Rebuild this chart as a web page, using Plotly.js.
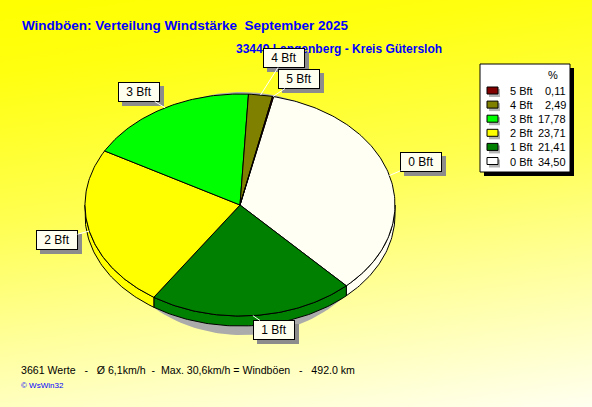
<!DOCTYPE html>
<html>
<head>
<meta charset="utf-8">
<script src="https://cdn.plot.ly/plotly-3.0.1.min.js"></script>
<style>
body { margin: 0; }
#plot { width: 592px; height: 407px;
  background: linear-gradient(172deg, #ffff00 0%, #ffff10 15%, #ffff50 45%, #ffffa0 72%, #fffff0 100%); }
</style>
</head>
<body>
<div id="plot"></div>
<script>
// Windstaerke-Verteilung (Prozent)
var categories = ['0 Bft', '1 Bft', '2 Bft', '3 Bft', '4 Bft', '5 Bft'];
var percent = [34.50, 21.41, 23.71, 17.78, 2.49, 0.11];

var titleText = 'Windböen: Verteilung Windstärke\u00a0\u00a0September 2025';
var subTitle = '33449 Langenberg - Kreis Gütersloh';
var footer = '3661 Werte\u00a0\u00a0 -\u00a0\u00a0 Ø 6,1km/h\u00a0 -\u00a0 Max. 30,6km/h = Windböen\u00a0\u00a0 -\u00a0\u00a0 492.0 km';

// styles / layout
var colors = ['#fffff4', '#008000', '#ffff00', '#00ff00', '#808000', '#800000'];
var cx = 240, cy = 205, rx = 155, ry = 111, depth = 10, startAngle = 12.5;
// label box centres
var labelPos = [[421, 162], [274, 330], [57, 240], [139, 92], [284, 58], [299, 79]];

function pt(a, dy) {
  var r = a * Math.PI / 180;
  return [cx + rx * Math.sin(r), cy - ry * Math.cos(r) + (dy || 0)];
}

var total = percent.reduce(function (s, v) { return s + v; }, 0);
var angles = [];
var acc = startAngle;
percent.forEach(function (v) {
  var a0 = acc;
  acc += v / total * 360;
  angles.push([a0, acc]);
});

var data = [];

// shadow under the pie
var shx = [], shy = [];
for (var t = 0; t <= 360; t += 2) {
  var r = t * Math.PI / 180;
  shx.push(242 + 140 * Math.sin(r));
  shy.push(213.5 - 121.5 * Math.cos(r));
}
data.push({ x: shx, y: shy, type: 'scatter', mode: 'lines', fill: 'toself',
  fillcolor: '#ababab', line: { width: 0 }, hoverinfo: 'skip', showlegend: false });

// side walls (front half only)
angles.forEach(function (ang, i) {
  var s = Math.max(ang[0], 90), e = Math.min(ang[1], 270);
  if (e <= s) return;
  var xs = [], ys = [], t, p;
  for (t = s; t < e; t += 1) { p = pt(t); xs.push(p[0]); ys.push(p[1]); }
  p = pt(e); xs.push(p[0]); ys.push(p[1]);
  for (t = e; t > s; t -= 1) { p = pt(t, depth); xs.push(p[0]); ys.push(p[1]); }
  p = pt(s, depth); xs.push(p[0]); ys.push(p[1]);
  p = pt(s); xs.push(p[0]); ys.push(p[1]);
  data.push({ x: xs, y: ys, type: 'scatter', mode: 'lines', fill: 'toself',
    fillcolor: colors[i], line: { color: 'black', width: 1 }, hoverinfo: 'skip', showlegend: false });
});

// top faces
angles.forEach(function (ang, i) {
  var xs = [cx], ys = [cy], t, p;
  for (t = ang[0]; t < ang[1]; t += 1) { p = pt(t); xs.push(p[0]); ys.push(p[1]); }
  p = pt(ang[1]); xs.push(p[0]); ys.push(p[1]);
  xs.push(cx); ys.push(cy);
  data.push({ x: xs, y: ys, type: 'scatter', mode: 'lines', fill: 'toself',
    fillcolor: colors[i], line: { color: 'black', width: 1 }, name: categories[i],
    text: percent[i].toFixed(2).replace('.', ',') + ' %', hoverinfo: 'name+text', showlegend: false });
});

var shapes = [], annotations = [];

// subtitle first, so the label boxes lie over it as in the original
annotations.push({ x: 234, y: 49, xref: 'x', yref: 'y', xanchor: 'left', text: '<b>' + subTitle + '</b>',
  showarrow: false, font: { family: 'Liberation Sans, Arial, sans-serif', size: 12, color: 'blue' } });

// slice labels with shadows and white leader lines
angles.forEach(function (ang, i) {
  var mid = pt((ang[0] + ang[1]) / 2);
  var lx = labelPos[i][0], ly = labelPos[i][1];
  shapes.push({ type: 'rect', xref: 'x', yref: 'y', layer: 'above',
    x0: lx - 21 + 4, x1: lx + 21 + 4, y0: ly - 10 + 4, y1: ly + 10 + 4,
    fillcolor: '#8c8c8c', line: { width: 0 } });
  annotations.push({ x: mid[0], y: mid[1], xref: 'x', yref: 'y', ax: lx, ay: ly, axref: 'x', ayref: 'y',
    text: categories[i], showarrow: true, arrowhead: 0, arrowwidth: 1, arrowcolor: 'white', standoff: 0,
    bgcolor: '#fffff0', bordercolor: 'black', borderwidth: 1, borderpad: 1, width: 38, height: 16,
    font: { family: 'Liberation Sans, Arial, sans-serif', size: 12, color: 'black' } });
});

// legend box
shapes.push({ type: 'rect', xref: 'x', yref: 'y', layer: 'above', x0: 484, x1: 574, y0: 68, y1: 176,
  fillcolor: 'black', line: { width: 0 } });
shapes.push({ type: 'rect', xref: 'x', yref: 'y', layer: 'above', x0: 480, x1: 570, y0: 64, y1: 172,
  fillcolor: 'white', line: { color: 'black', width: 1 } });
annotations.push({ x: 553, y: 75, xref: 'x', yref: 'y', text: '%', showarrow: false,
  font: { family: 'Liberation Sans, Arial, sans-serif', size: 11, color: 'black' } });
for (var k = 0; k < categories.length; k++) {
  var i = categories.length - 1 - k;
  var yy = 91 + k * 14.1;
  shapes.push({ type: 'rect', xref: 'x', yref: 'y', layer: 'above', x0: 489, x1: 500, y0: yy - 2, y1: yy + 6,
    fillcolor: '#b4b4b4', line: { width: 0 } });
  shapes.push({ type: 'rect', xref: 'x', yref: 'y', layer: 'above', x0: 487, x1: 498, y0: yy - 4, y1: yy + 3,
    fillcolor: colors[i] === '#fffff4' ? 'white' : colors[i], line: { color: 'black', width: 1 } });
  annotations.push({ x: 508, y: yy, xref: 'x', yref: 'y', xanchor: 'left', text: categories[i], showarrow: false,
    font: { family: 'Liberation Sans, Arial, sans-serif', size: 11, color: 'black' } });
  annotations.push({ x: 568, y: yy, xref: 'x', yref: 'y', xanchor: 'right',
    text: percent[i].toFixed(2).replace('.', ','), showarrow: false,
    font: { family: 'Liberation Sans, Arial, sans-serif', size: 11, color: 'black' } });
}

// footer
annotations.push({ x: 19, y: 370, xref: 'x', yref: 'y', xanchor: 'left', text: footer,
  showarrow: false, font: { family: 'Liberation Sans, Arial, sans-serif', size: 10.6, color: 'black' } });
annotations.push({ x: 19, y: 385, xref: 'x', yref: 'y', xanchor: 'left', text: '© WsWin32',
  showarrow: false, font: { family: 'Liberation Sans, Arial, sans-serif', size: 8, color: 'blue' } });

var layout = {
  width: 592, height: 407,
  margin: { l: 0, r: 0, t: 0, b: 0 },
  paper_bgcolor: 'rgba(0,0,0,0)', plot_bgcolor: 'rgba(0,0,0,0)',
  title: { text: '<b>' + titleText + '</b>', x: 22 / 592, xanchor: 'left', y: 1 - 25 / 407, yanchor: 'middle',
    font: { family: 'Liberation Sans, Arial, sans-serif', size: 13.5, color: 'blue' } },
  xaxis: { range: [0, 592], visible: false, fixedrange: true },
  yaxis: { range: [407, 0], visible: false, fixedrange: true },
  shapes: shapes,
  annotations: annotations,
  showlegend: false
};

Plotly.newPlot('plot', data, layout, { displayModeBar: false });
</script>
</body>
</html>
